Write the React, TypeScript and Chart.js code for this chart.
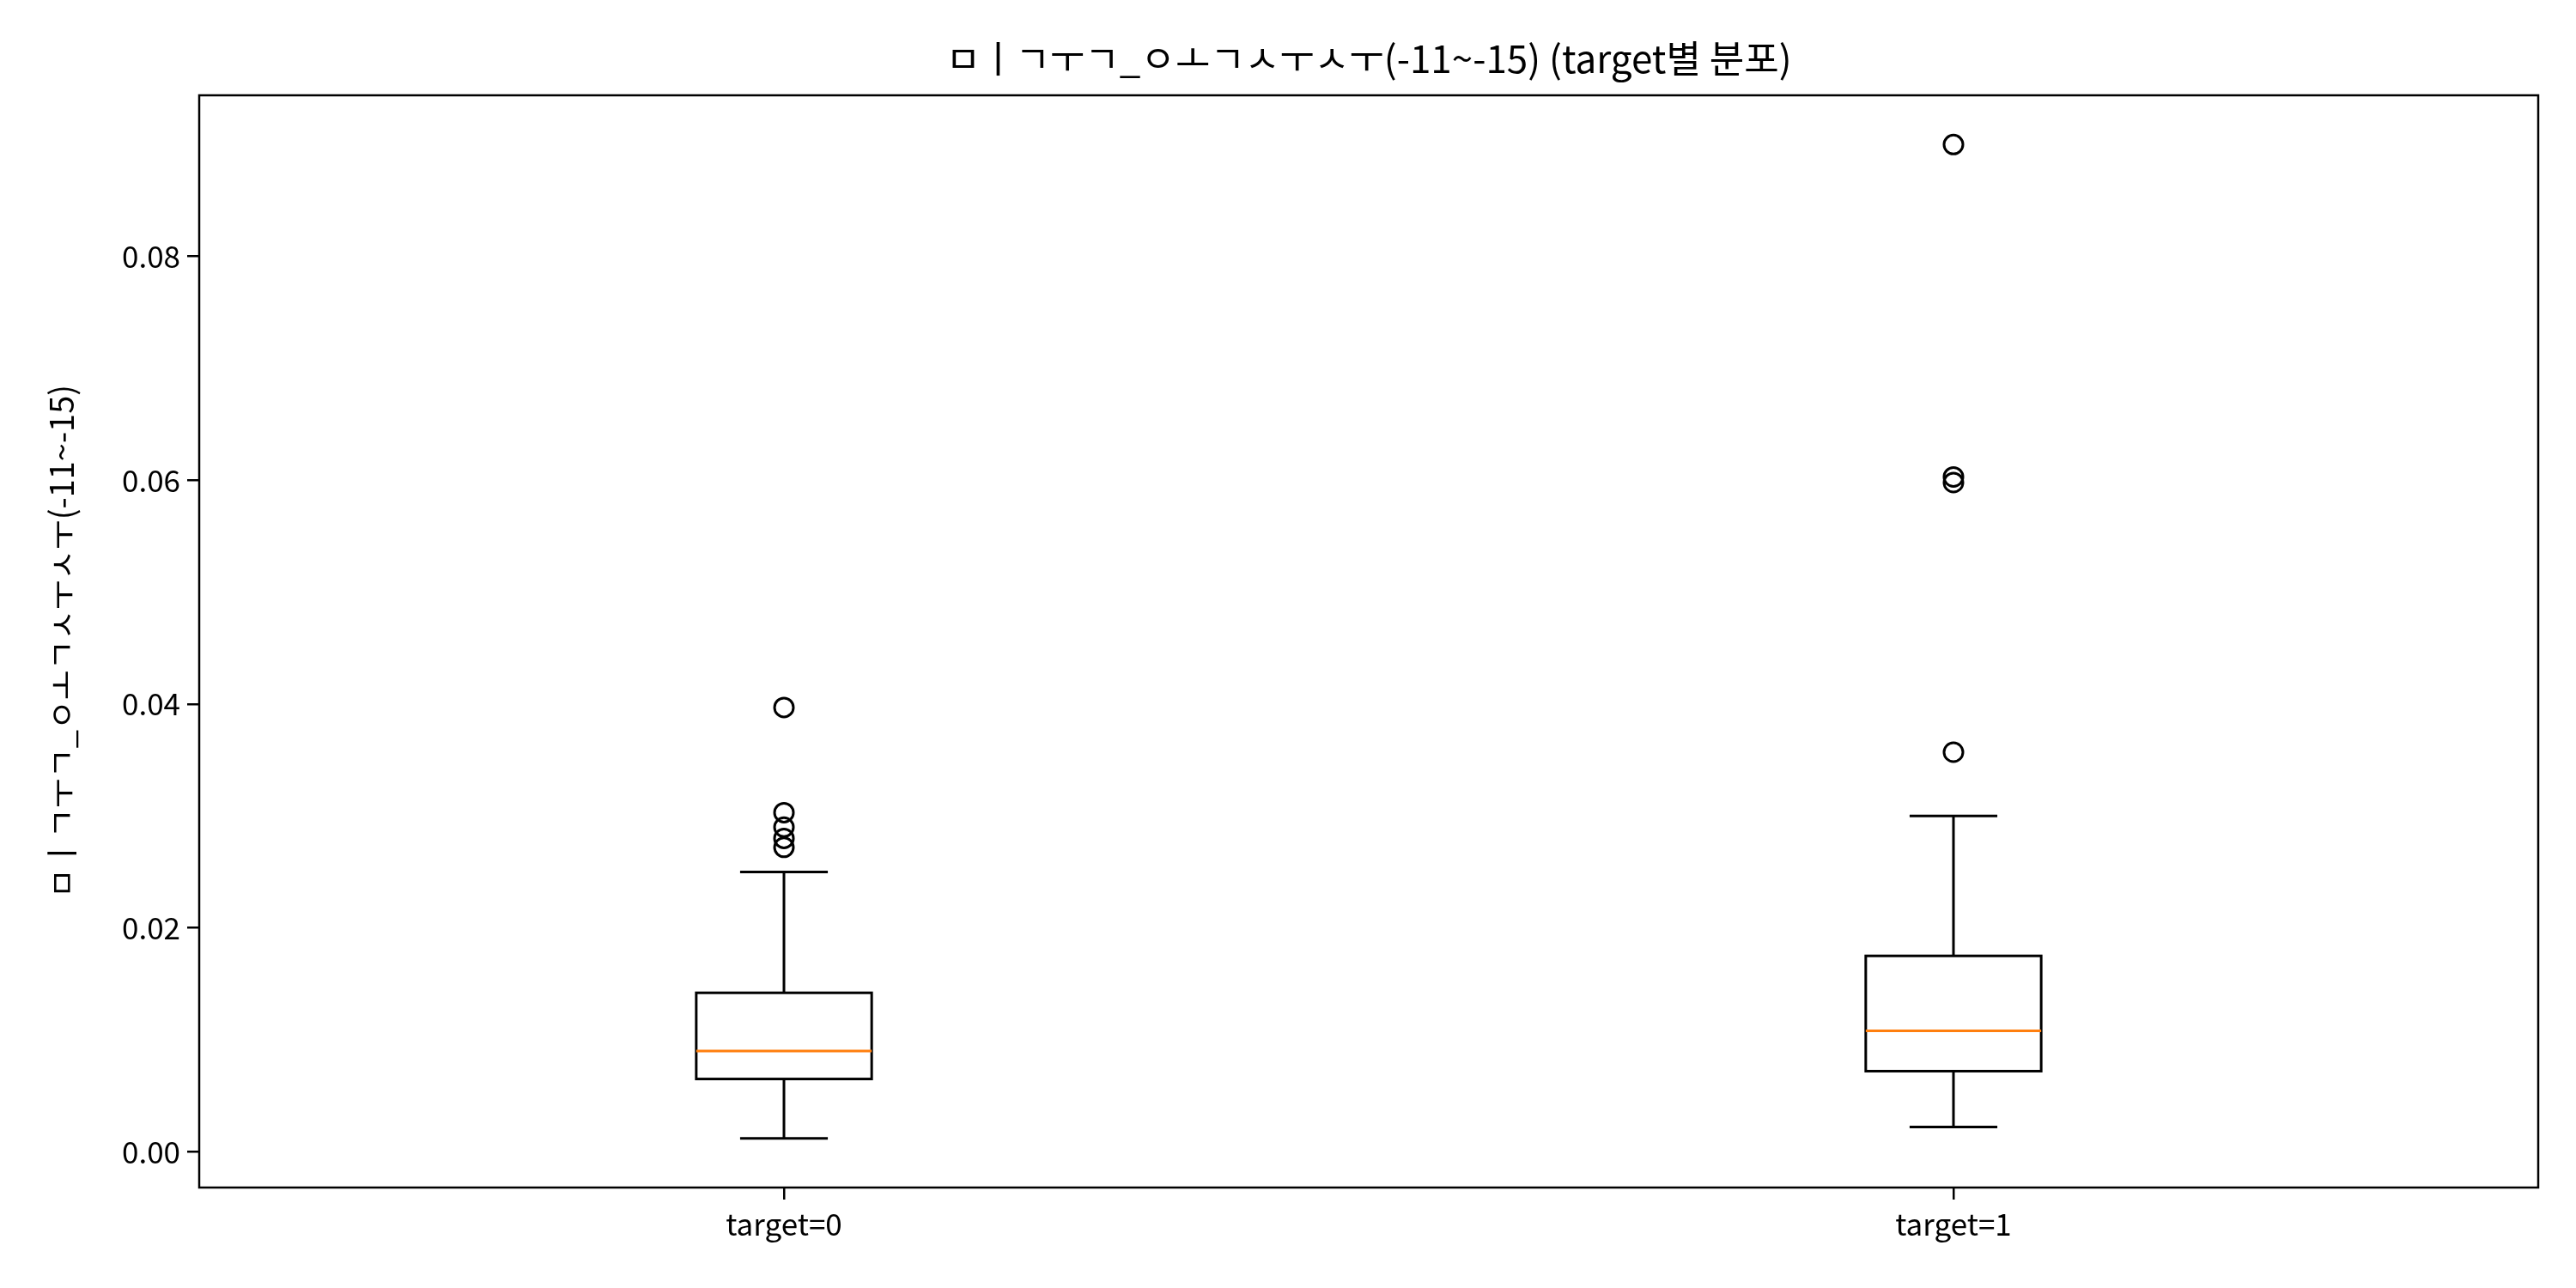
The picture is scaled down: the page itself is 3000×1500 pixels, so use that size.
import React, { useEffect, useRef } from "react";
import { Chart, registerables } from "chart.js";

Chart.register(...registerables);

const categories = ["target=0", "target=1"];
const mins = [0.0012, 0.0022];
const q1s = [0.0065, 0.0072];
const medians = [0.009, 0.0108];
const q3s = [0.0142, 0.0175];
const maxs = [0.025, 0.03];
const outliers0 = [0.0397, 0.0303, 0.029, 0.028, 0.0272];
const outliers1 = [0.09, 0.0603, 0.0598, 0.0357];
const yTicks = [0, 0.02, 0.04, 0.06, 0.08];

const TITLE = "ㅁㅣㄱㅜㄱ_ㅇㅗㄱㅅㅜㅅㅜ(-11~-15) (target별 분포)";
const YLABEL = "ㅁㅣㄱㅜㄱ_ㅇㅗㄱㅅㅜㅅㅜ(-11~-15)";
const FONT = "'Noto Sans CJK KR', 'Noto Sans', sans-serif";

const boxPlugin = {
  id: "boxes",
  afterDatasetsDraw(chart: any) {
    const { ctx, scales, chartArea } = chart;
    const x = scales.x;
    const y = scales.y;
    const half = 0.075;
    ctx.save();
    ctx.lineWidth = 3;
    categories.forEach((_, i) => {
      const cx = x.getPixelForValue(i);
      const l = x.getPixelForValue(i - half);
      const r = x.getPixelForValue(i + half);
      const cl = x.getPixelForValue(i - half / 2);
      const cr = x.getPixelForValue(i + half / 2);
      ctx.strokeStyle = "#000";
      ctx.strokeRect(l, y.getPixelForValue(q3s[i]), r - l, y.getPixelForValue(q1s[i]) - y.getPixelForValue(q3s[i]));
      ctx.beginPath();
      ctx.moveTo(cx, y.getPixelForValue(q1s[i]));
      ctx.lineTo(cx, y.getPixelForValue(mins[i]));
      ctx.moveTo(cl, y.getPixelForValue(mins[i]));
      ctx.lineTo(cr, y.getPixelForValue(mins[i]));
      ctx.moveTo(cx, y.getPixelForValue(q3s[i]));
      ctx.lineTo(cx, y.getPixelForValue(maxs[i]));
      ctx.moveTo(cl, y.getPixelForValue(maxs[i]));
      ctx.lineTo(cr, y.getPixelForValue(maxs[i]));
      ctx.stroke();
      ctx.strokeStyle = "#ff7f0e";
      ctx.beginPath();
      ctx.moveTo(l, y.getPixelForValue(medians[i]));
      ctx.lineTo(r, y.getPixelForValue(medians[i]));
      ctx.stroke();
    });
    ctx.strokeStyle = "#000";
    ctx.lineWidth = 2.5;
    ctx.strokeRect(chartArea.left, chartArea.top, chartArea.right - chartArea.left, chartArea.bottom - chartArea.top);
    ctx.fillStyle = "#000";
    ctx.textAlign = "center";
    ctx.textBaseline = "middle";
    ctx.font = `44px ${FONT}`;
    ctx.fillText(TITLE, (chartArea.left + chartArea.right) / 2, 68);
    ctx.translate(72, (chartArea.top + chartArea.bottom) / 2);
    ctx.rotate(-Math.PI / 2);
    ctx.font = `38px ${FONT}`;
    ctx.fillText(YLABEL, 0, 0);
    ctx.restore();
  },
};

const App = () => {
  const chartRef: any = useRef(null);
  const chartInstance: any = useRef(null);

  useEffect(() => {
    document.body.style.margin = "0";
    const ctx = chartRef.current.getContext("2d");
    chartInstance.current = new Chart(ctx, {
      type: "scatter",
      data: {
        datasets: [
          {
            data: [...outliers0.map((v) => ({ x: 0, y: v })), ...outliers1.map((v) => ({ x: 1, y: v }))],
            pointStyle: "circle",
            pointRadius: 11,
            borderColor: "#000",
            borderWidth: 3,
            backgroundColor: "rgba(0,0,0,0)",
          },
        ],
      },
      options: {
        animation: false,
        responsive: false,
        layout: { padding: { top: 111, right: 44, left: 0, bottom: 0 } },
        plugins: { legend: { display: false }, tooltip: { enabled: false } },
        scales: {
          x: {
            type: "linear",
            min: -0.5,
            max: 1.5,
            afterBuildTicks: (s: any) => {
              s.ticks = categories.map((_, i) => ({ value: i }));
            },
            afterFit: (s: any) => {
              s.height = 117;
            },
            ticks: {
              callback: (v: any) => categories[v] ?? "",
              color: "#000",
              font: { family: FONT, size: 35 },
              padding: 8,
            },
            grid: { drawOnChartArea: false, drawTicks: true, tickLength: 14, color: "#000", lineWidth: 2.5 },
            border: { display: false },
          },
          y: {
            min: -0.0032,
            max: 0.0944,
            afterBuildTicks: (s: any) => {
              s.ticks = yTicks.map((v) => ({ value: v }));
            },
            afterFit: (s: any) => {
              s.width = 232;
            },
            ticks: {
              callback: (v: any) => Number(v).toFixed(2),
              color: "#000",
              font: { family: FONT, size: 35 },
              padding: 8,
            },
            grid: { drawOnChartArea: false, drawTicks: true, tickLength: 14, color: "#000", lineWidth: 2.5 },
            border: { display: false },
          },
        },
      },
      plugins: [boxPlugin],
    });

    return () => {
      if (chartInstance.current) {
        chartInstance.current.destroy();
      }
    };
  }, []);

  return (
    <div style={{ width: 3000, height: 1500, background: "#fff" }}>
      <canvas ref={chartRef} width={3000} height={1500}></canvas>
    </div>
  );
};

export default App;
